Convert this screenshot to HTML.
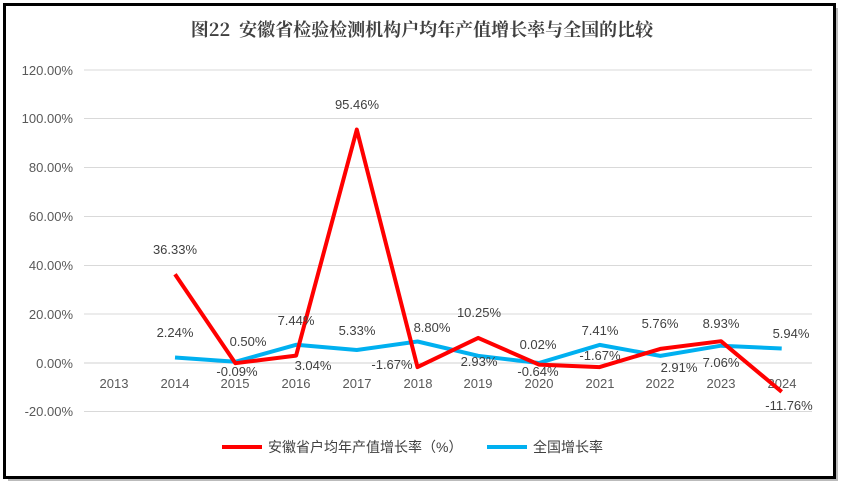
<!DOCTYPE html>
<html><head><meta charset="utf-8"><style>
body{margin:0;background:#fff;}
svg{display:block;font-family:"Liberation Sans","Noto Sans CJK SC",sans-serif;}
</style></head><body>
<svg width="845" height="487" viewBox="0 0 845 487">
<rect x="0" y="0" width="845" height="487" fill="#fff"/>
<rect x="8" y="8" width="830" height="473" fill="#bbb"/>
<rect x="4.5" y="4.5" width="830" height="473" fill="#fff" stroke="#000" stroke-width="3"/>
<text x="422" y="36" text-anchor="middle" font-size="18" font-weight="bold" fill="#404040" font-family="'Noto Serif CJK SC','Liberation Serif',serif">图22&#160;&#160;安徽省检验检测机构户均年产值增长率与全国的比较</text>
<g stroke="#d9d9d9" stroke-width="1">
<line x1="84" x2="812" y1="70" y2="70"/><line x1="84" x2="812" y1="118.5" y2="118.5"/><line x1="84" x2="812" y1="167.5" y2="167.5"/><line x1="84" x2="812" y1="216.5" y2="216.5"/><line x1="84" x2="812" y1="265.5" y2="265.5"/><line x1="84" x2="812" y1="314" y2="314"/><line x1="84" x2="812" y1="411.5" y2="411.5"/>
<line x1="84" x2="812" y1="363" y2="363" stroke="#d0d0d0"/>
</g>
<g font-size="13" fill="#595959" text-anchor="end">
<text x="73" y="75">120.00%</text><text x="73" y="123">100.00%</text><text x="73" y="172">80.00%</text><text x="73" y="221">60.00%</text><text x="73" y="270">40.00%</text><text x="73" y="319">20.00%</text><text x="73" y="368">0.00%</text><text x="73" y="416">-20.00%</text>
</g>
<g font-size="13" fill="#595959" text-anchor="middle">
<text x="114" y="388">2013</text><text x="175" y="388">2014</text><text x="235" y="388">2015</text><text x="296" y="388">2016</text><text x="357" y="388">2017</text><text x="418" y="388">2018</text><text x="478" y="388">2019</text><text x="539" y="388">2020</text><text x="600" y="388">2021</text><text x="660" y="388">2022</text><text x="721" y="388">2023</text><text x="782" y="388">2024</text>
</g>
<polyline fill="none" stroke="#00b0f0" stroke-width="4" stroke-linejoin="round" points="175,357.5 235.4,361.8 296.1,344.8 356.8,350 417.5,341.5 478.2,355.8 538.9,363 599.6,344.9 660.3,355.9 721,345.7 781.7,348.5"/>
<polyline fill="none" stroke="#ff0000" stroke-width="4" stroke-linejoin="round" points="175,274.2 235.4,363.2 296.1,355.6 356.8,129.6 417.5,367.1 478.2,337.9 538.9,364.6 599.6,367.1 660.3,348.9 721,341.2 781.7,391.8"/>
<g font-size="13" fill="#404040" text-anchor="middle">
<text x="175" y="254">36.33%</text><text x="175" y="337">2.24%</text><text x="248" y="346">0.50%</text><text x="237" y="376">-0.09%</text><text x="296" y="325">7.44%</text><text x="313" y="370">3.04%</text><text x="357" y="109">95.46%</text><text x="357" y="335">5.33%</text><text x="432" y="332">8.80%</text><text x="392" y="369">-1.67%</text><text x="479" y="317">10.25%</text><text x="479" y="366">2.93%</text><text x="538" y="349">0.02%</text><text x="538" y="376">-0.64%</text><text x="600" y="335">7.41%</text><text x="600" y="360">-1.67%</text><text x="660" y="328">5.76%</text><text x="679" y="372">2.91%</text><text x="721" y="328">8.93%</text><text x="721" y="367">7.06%</text><text x="791" y="338">5.94%</text><text x="789" y="410">-11.76%</text>
</g>
<line x1="222" x2="262" y1="447" y2="447" stroke="#ff0000" stroke-width="4"/>
<text x="268" y="452" font-size="14" fill="#404040">安徽省户均年产值增长率（%）</text>
<line x1="487" x2="527" y1="447" y2="447" stroke="#00b0f0" stroke-width="4"/>
<text x="533" y="452" font-size="14" fill="#404040">全国增长率</text>
</svg>
</body></html>
